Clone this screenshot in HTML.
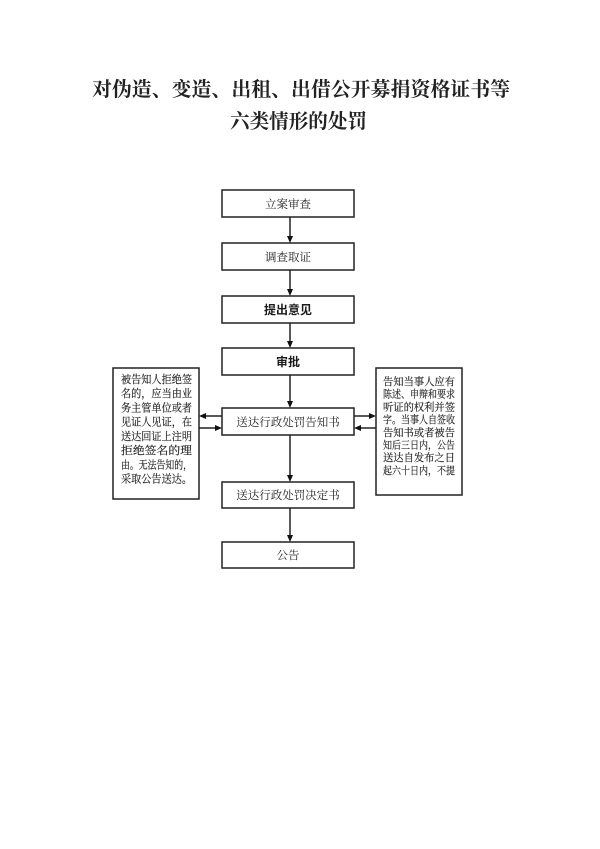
<!DOCTYPE html>
<html>
<head>
<meta charset="utf-8">
<style>
html,body{margin:0;padding:0;background:#fff;}
svg{display:block;}
.t{font-family:"Liberation Serif","Noto Serif CJK SC",serif;fill:#222;}
.s{font-family:"Liberation Serif","Noto Serif CJK SC",serif;fill:#1e1e1e;stroke:#1e1e1e;stroke-width:0.15;}
.b{font-family:"Liberation Sans","Noto Sans CJK SC",sans-serif;font-weight:bold;fill:#1a1a1a;}
</style>
</head>
<body>
<svg width="600" height="849" viewBox="0 0 600 849" xmlns="http://www.w3.org/2000/svg">
  <rect width="600" height="849" fill="#fff"/>
  <!-- Title -->
  <text x="92" y="96" class="t" font-size="20" font-weight="bold" textLength="418" lengthAdjust="spacingAndGlyphs" style="fill:#222">对伪造、变造、出租、出借公开募捐资格证书等</text>
  <text x="230" y="128" class="t" font-size="20" font-weight="bold" textLength="137" lengthAdjust="spacingAndGlyphs" style="fill:#222">六类情形的处罚</text>

  <g fill="none" stroke="#222" stroke-width="1.5">
    <rect x="222" y="190" width="132" height="27"/>
    <rect x="222" y="243" width="132" height="27"/>
    <rect x="222" y="296" width="132" height="27"/>
    <rect x="222" y="348" width="132" height="27"/>
    <rect x="222" y="408" width="132" height="27"/>
    <rect x="222" y="482" width="132" height="26"/>
    <rect x="222" y="542" width="132" height="26"/>
    <rect x="113" y="368" width="86" height="131"/>
    <rect x="376" y="368" width="86" height="127"/>
    <!-- vertical connectors -->
    <line x1="290" y1="217" x2="290" y2="237"/>
    <line x1="290" y1="270" x2="290" y2="290"/>
    <line x1="290" y1="323" x2="290" y2="342"/>
    <line x1="290" y1="375" x2="290" y2="402"/>
    <line x1="290" y1="435" x2="290" y2="476"/>
    <line x1="290" y1="508" x2="290" y2="536"/>
    <!-- horizontal connectors -->
    <line x1="222" y1="416" x2="205" y2="416"/>
    <line x1="199" y1="428" x2="216" y2="428"/>
    <line x1="354" y1="416" x2="370" y2="416"/>
    <line x1="376" y1="428" x2="360" y2="428"/>
  </g>
  <g fill="#111">
    <polygon points="287,236 293,236 290,243"/>
    <polygon points="287,289 293,289 290,296"/>
    <polygon points="287,341 293,341 290,348"/>
    <polygon points="287,401 293,401 290,408"/>
    <polygon points="287,475 293,475 290,482"/>
    <polygon points="287,535 293,535 290,542"/>
    <polygon points="206,413 206,419 199,416"/>
    <polygon points="215,425 215,431 222,428"/>
    <polygon points="369,413 369,419 376,416"/>
    <polygon points="361,425 361,431 354,428"/>
  </g>

  <!-- box labels -->
  <text x="288" y="208" class="t" font-size="11.5" text-anchor="middle">立案审查</text>
  <text x="288" y="261" class="t" font-size="11.5" text-anchor="middle">调查取证</text>
  <text x="288" y="314" class="b" font-size="12" text-anchor="middle">提出意见</text>
  <text x="288" y="366" class="b" font-size="12" text-anchor="middle">审批</text>
  <text x="288" y="426" class="t" font-size="11.5" text-anchor="middle">送达行政处罚告知书</text>
  <text x="288" y="499" class="t" font-size="11.5" text-anchor="middle">送达行政处罚决定书</text>
  <text x="288" y="559" class="t" font-size="11.5" text-anchor="middle">公告</text>

  <!-- left box -->
  <g class="s" font-size="11">
    <text x="121" y="383" textLength="71" lengthAdjust="spacingAndGlyphs">被告知人拒绝签</text>
    <text x="121" y="397" textLength="71" lengthAdjust="spacingAndGlyphs">名的，应当由业</text>
    <text x="121" y="411.5" textLength="71" lengthAdjust="spacingAndGlyphs">务主管单位或者</text>
    <text x="121" y="425.7" textLength="71" lengthAdjust="spacingAndGlyphs">见证人见证，在</text>
    <text x="121" y="440" textLength="71" lengthAdjust="spacingAndGlyphs">送达回证上注明</text>
    <text x="121" y="454" textLength="71" lengthAdjust="spacingAndGlyphs">拒绝签名的理</text>
    <text x="121" y="468.3" textLength="71" lengthAdjust="spacingAndGlyphs">由。无法告知的，</text>
    <text x="121" y="482.5" textLength="71" lengthAdjust="spacingAndGlyphs">采取公告送达。</text>
  </g>

  <!-- right box -->
  <g class="s" font-size="10.5">
    <text x="383" y="385" textLength="72" lengthAdjust="spacingAndGlyphs">告知当事人应有</text>
    <text x="383" y="397.7" textLength="72" lengthAdjust="spacingAndGlyphs">陈述、申辩和要求</text>
    <text x="383" y="410.5" textLength="72" lengthAdjust="spacingAndGlyphs">听证的权利并签</text>
    <text x="383" y="423.2" textLength="72" lengthAdjust="spacingAndGlyphs">字。当事人自签收</text>
    <text x="383" y="435.8" textLength="72" lengthAdjust="spacingAndGlyphs">告知书或者被告</text>
    <text x="383" y="448.5" textLength="72" lengthAdjust="spacingAndGlyphs">知后三日内，公告</text>
    <text x="383" y="461.2" textLength="72" lengthAdjust="spacingAndGlyphs">送达自发布之日</text>
    <text x="383" y="474" textLength="72" lengthAdjust="spacingAndGlyphs">起六十日内，不提</text>
  </g>
</svg>
</body>
</html>
